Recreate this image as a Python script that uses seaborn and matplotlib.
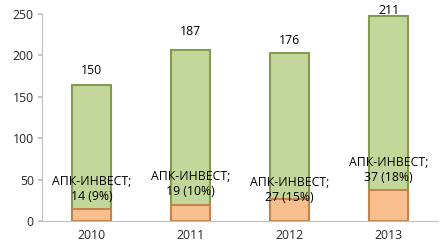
import matplotlib
matplotlib.use("Agg")
import matplotlib.pyplot as plt
import seaborn as sns
import pandas as pd

years = ["2010", "2011", "2012", "2013"]
other = [150, 187, 176, 211]
apk = [14, 19, 27, 37]
apk_pct = ["9%", "10%", "15%", "18%"]
apk_name = "АПК-ИНВЕСТ"

totals = [o + a for o, a in zip(other, apk)]
df = pd.DataFrame({"year": years, "total": totals, "apk": apk, "other": other})

# label placement (layout only)
top_label_y = [182, 229, 218, 254]
apk_label_y = [39, 45, 38, 61]

sns.set_theme(style="white")
plt.rcParams["font.family"] = ["Open Sans", "DejaVu Sans"]

fig = plt.figure(figsize=(4.48, 2.5), dpi=100)
ax = fig.add_axes([0.094, 0.116, 0.884, 0.828])

sns.barplot(data=df, x="year", y="total", color="#C4D79B", saturation=1,
            width=0.4, edgecolor="#869B52", linewidth=1.5, ax=ax)
sns.barplot(data=df, x="year", y="apk", color="#F9BF8F", saturation=1,
            width=0.4, edgecolor="#C4844E", linewidth=1.5, ax=ax)

fs = 8.8
for i in range(len(years)):
    ax.text(i, top_label_y[i], str(other[i]), ha="center", va="center",
            fontsize=fs, color="black")
    ax.text(i, apk_label_y[i], f"{apk_name};\n{apk[i]} ({apk_pct[i]})",
            ha="center", va="center", fontsize=fs, color="black",
            linespacing=1.2)

ax.set_ylim(0, 250)
ax.set_xlim(-0.5, 3.5)
ax.set_yticks([0, 50, 100, 150, 200, 250])
ax.set_xlabel("")
ax.set_ylabel("")
ax.set_xticks([0, 1, 2, 3])
ax.set_xticklabels(years)
ax.set_xticks([-0.5, 0.5, 1.5, 2.5, 3.5], minor=True)
ax.tick_params(axis="x", which="major", length=0, labelsize=fs, pad=6)
ax.tick_params(axis="x", which="minor", length=4, color="#BFBFBF", direction="out")
ax.tick_params(axis="y", length=3, color="#BFBFBF", direction="out", labelsize=fs, pad=3, left=True)
for s in ["top", "right"]:
    ax.spines[s].set_visible(False)
for s in ["left", "bottom"]:
    ax.spines[s].set_color("#BFBFBF")
    ax.spines[s].set_linewidth(0.8)
ax.grid(False)

fig.savefig("out.png", dpi=100)
